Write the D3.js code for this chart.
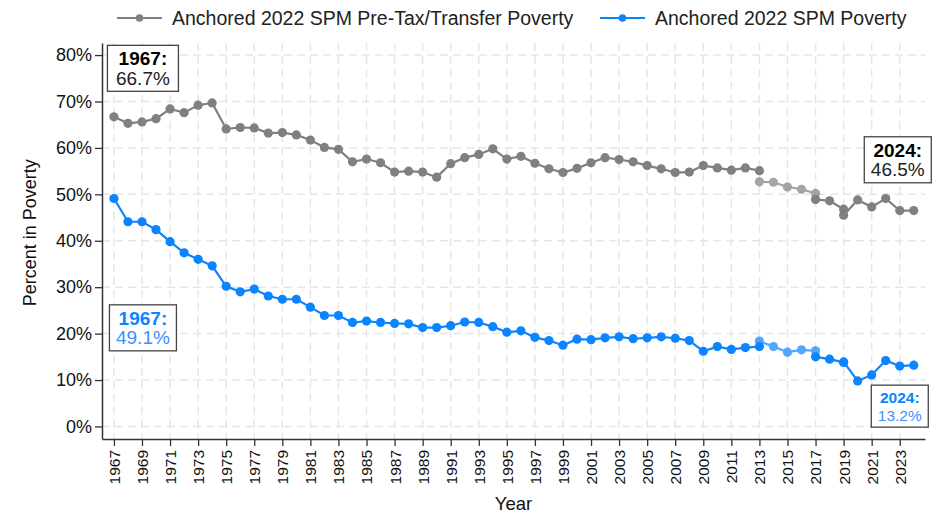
<!DOCTYPE html>
<html>
<head>
<meta charset="utf-8">
<script src="https://cdn.jsdelivr.net/npm/d3@7"></script>
<style>
    body { margin: 0; background: #fff; }
    svg { font-family: "Liberation Sans", Arial, sans-serif; }
</style>
</head>
<body>
<div id="Graph"></div>
<script>
// ---- data ----
const yearsA = [1967,1968,1969,1970,1971,1972,1973,1974,1975,1976,1977,1978,1979,1980,1981,1982,1983,1984,1985,1986,
    1987,1988,1989,1990,1991,1992,1993,1994,1995,1996,1997,1998,1999,2000,2001,2002,2003,2004,2005,2006,
    2007,2008,2009,2010,2011,2012,2013];
const preTaxA = [66.7,65.3,65.6,66.3,68.4,67.6,69.2,69.7,64.1,64.4,64.3,63.2,63.3,62.8,61.7,60.1,59.7,57.0,57.6,56.8,
    54.8,55.0,54.8,53.7,56.6,57.9,58.6,59.8,57.6,58.2,56.7,55.5,54.7,55.6,56.8,57.9,57.5,57.0,56.2,55.5,
    54.7,54.8,56.2,55.7,55.2,55.7,55.1];
const spmA = [49.1,44.1,44.1,42.4,39.8,37.4,36.0,34.6,30.2,29.0,29.6,28.1,27.4,27.4,25.7,23.9,23.9,22.4,22.7,22.4,
    22.2,22.1,21.3,21.3,21.7,22.5,22.4,21.5,20.3,20.6,19.2,18.5,17.5,18.8,18.7,19.1,19.3,18.9,19.1,19.3,
    19.0,18.5,16.2,17.2,16.6,17.0,17.2];

// bridge years (drawn lighter)
const yearsB = [2013,2014,2015,2016,2017];
const preTaxB = [52.7,52.6,51.6,51.1,50.2];
const spmB = [18.4,17.2,16.0,16.5,16.3];

const yearsC = [2017,2018,2019];
const preTaxC = [48.9,48.6,46.8];
const spmC = [15.0,14.5,13.8];

const yearsD = [2019,2020,2021,2022,2023,2024];
const preTaxD = [45.5,48.8,47.3,49.1,46.5,46.5];
const spmD = [13.9,9.8,11.1,14.2,13.0,13.2];

const yTicks = [0,10,20,30,40,50,60,70,80];
const xTickYears = [1967,1969,1971,1973,1975,1977,1979,1981,1983,1985,1987,1989,1991,1993,1995,1997,1999,
    2001,2003,2005,2007,2009,2011,2013,2015,2017,2019,2021,2023];

const seriesNames = ["Anchored 2022 SPM Pre-Tax/Transfer Poverty", "Anchored 2022 SPM Poverty"];
const grayCol = "#808080";
const blueCol = "#0a84ff";

// ---- layout ----
const W = 937, H = 521;
const margin = {top: 43, right: 12, bottom: 82, left: 102};

const svg = d3.select("#Graph")
    .append("svg")
    .attr("width", W)
    .attr("height", H);

const x = d3.scaleLinear()
    .domain([1966.15, 2024.8])
    .range([margin.left, W - margin.right]);

const y = d3.scaleLinear()
    .domain([-2.7, 82.6])
    .range([H - margin.bottom, margin.top]);

// grid
const grid = svg.append("g");
grid.selectAll("line.h")
    .data(yTicks)
    .enter().append("line")
    .attr("x1", x.range()[0]).attr("x2", x.range()[1])
    .attr("y1", d => y(d)).attr("y2", d => y(d))
    .attr("stroke", "#e6e6e6").attr("stroke-width", 1.5)
    .attr("stroke-dasharray", "8,5");
grid.selectAll("line.v")
    .data(xTickYears)
    .enter().append("line")
    .attr("x1", d => x(d)).attr("x2", d => x(d))
    .attr("y1", y.range()[1]).attr("y2", y.range()[0])
    .attr("stroke", "#e6e6e6").attr("stroke-width", 1.5)
    .attr("stroke-dasharray", "8,5");

// X axis
const xAxis = svg.append("g")
    .attr("transform", `translate(0,${y.range()[0]})`)
    .call(d3.axisBottom(x).tickValues(xTickYears).tickFormat(d3.format("d")).tickSize(7).tickSizeOuter(0));
xAxis.select(".domain").attr("stroke", "#333").attr("stroke-width", 1.5);
xAxis.selectAll(".tick line").attr("stroke", "#333").attr("stroke-width", 1.3);
xAxis.selectAll(".tick text")
    .attr("font-size", 15.5)
    .attr("fill", "#111")
    .attr("transform", "rotate(-90)")
    .attr("text-anchor", "end")
    .attr("x", -11)
    .attr("y", 0)
    .attr("dy", "0.35em");

// Y axis
const yAxis = svg.append("g")
    .attr("transform", `translate(${x.range()[0]},0)`)
    .call(d3.axisLeft(y).tickValues(yTicks).tickFormat(d => d + "%").tickSize(7).tickSizeOuter(0));
yAxis.select(".domain").attr("stroke", "#333").attr("stroke-width", 1.5);
yAxis.selectAll(".tick line").attr("stroke", "#333").attr("stroke-width", 1.3);
yAxis.selectAll(".tick text").attr("font-size", 18).attr("fill", "#111").attr("x", -10);

// axis titles
svg.append("text")
    .attr("x", (x.range()[0] + x.range()[1]) / 2)
    .attr("y", 510)
    .attr("text-anchor", "middle")
    .attr("font-size", 18.5)
    .attr("fill", "#111")
    .text("Year");
svg.append("text")
    .attr("transform", `translate(36,${(y(0) + y(80)) / 2 - 8}) rotate(-90)`)
    .attr("text-anchor", "middle")
    .attr("font-size", 18)
    .attr("fill", "#111")
    .text("Percent in Poverty");

// lines + markers
const line = d3.line().x(d => x(d[0])).y(d => y(d[1]));
function drawSeg(years, vals, color, opacity) {
    const pts = years.map((yr, i) => [yr, vals[i]]);
    const g = svg.append("g").attr("opacity", opacity);
    g.append("path")
        .datum(pts)
        .attr("d", line)
        .attr("fill", "none")
        .attr("stroke", color)
        .attr("stroke-width", 2.2);
    g.selectAll("circle")
        .data(pts)
        .enter().append("circle")
        .attr("cx", d => x(d[0]))
        .attr("cy", d => y(d[1]))
        .attr("r", 4.6)
        .attr("fill", color);
}
drawSeg(yearsA, preTaxA, grayCol, 1);
drawSeg(yearsB, preTaxB, grayCol, 0.7);
drawSeg(yearsC, preTaxC, grayCol, 1);
drawSeg(yearsD, preTaxD, grayCol, 1);
drawSeg(yearsA, spmA, blueCol, 1);
drawSeg(yearsB, spmB, blueCol, 0.7);
drawSeg(yearsC, spmC, blueCol, 1);
drawSeg(yearsD, spmD, blueCol, 1);

// labelled boxes
function labelBox(cx, top, w, h, fs, yr, val, c1, c2) {
    const g = svg.append("g");
    g.append("rect")
        .attr("x", cx - w / 2).attr("y", top)
        .attr("width", w).attr("height", h)
        .attr("fill", "#fff")
        .attr("stroke", "#444").attr("stroke-width", 1.3);
    g.append("text")
        .attr("x", cx).attr("y", top + h * 0.43)
        .attr("text-anchor", "middle")
        .attr("font-size", fs).attr("font-weight", "bold")
        .attr("fill", c1)
        .text(yr + ":");
    g.append("text")
        .attr("x", cx).attr("y", top + h * 0.86)
        .attr("text-anchor", "middle")
        .attr("font-size", fs)
        .attr("fill", c2)
        .text(val.toFixed(1) + "%");
}
labelBox(x(1967) + 29, y(82.1), 71, 46, 19, yearsA[0], preTaxA[0], "#000", "#222");
labelBox(x(1967) + 29, y(26.2), 67, 46, 19, yearsA[0], spmA[0], blueCol, "#3d8fff");
labelBox(x(2024) - 16, y(62.4), 67, 46, 19, yearsD[yearsD.length - 1], preTaxD[preTaxD.length - 1], "#000", "#222");
labelBox(x(2024) - 14, y(8.9), 57, 42, 15.5, yearsD[yearsD.length - 1], spmD[spmD.length - 1], blueCol, "#3d8fff");

// legend
const legend = svg.append("g");
const legItems = [
    {name: seriesNames[0], color: grayCol, x0: 117},
    {name: seriesNames[1], color: blueCol, x0: 600}
];
legItems.forEach(it => {
    legend.append("line")
        .attr("x1", it.x0).attr("x2", it.x0 + 45)
        .attr("y1", 18).attr("y2", 18)
        .attr("stroke", it.color).attr("stroke-width", 2.2);
    legend.append("circle")
        .attr("cx", it.x0 + 22.5).attr("cy", 18)
        .attr("r", 3.8).attr("fill", it.color);
    legend.append("text")
        .attr("x", it.x0 + 55).attr("y", 18)
        .attr("dy", "0.35em")
        .attr("font-size", 19.5)
        .attr("fill", "#222")
        .text(it.name);
});
</script>
</body>
</html>
